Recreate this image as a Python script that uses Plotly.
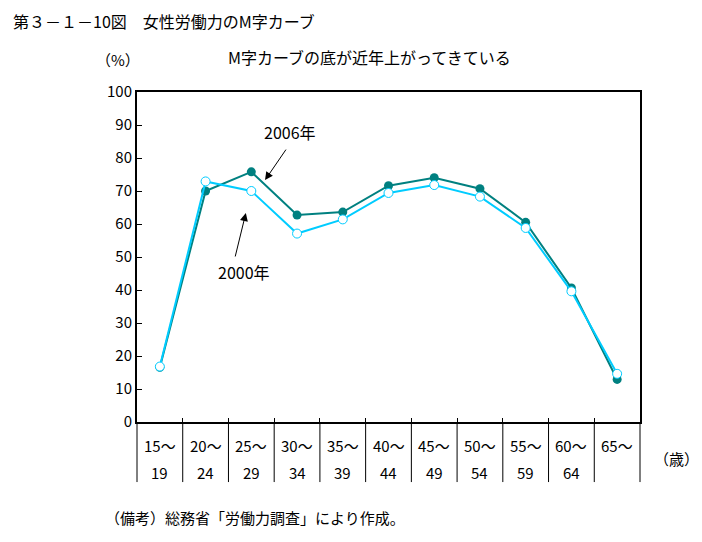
import plotly.graph_objects as go

top_labels = ["15～", "20～", "25～", "30～", "35～", "40～", "45～", "50～", "55～", "60～", "65～"]
bottom_labels = ["19", "24", "29", "34", "39", "44", "49", "54", "59", "64", ""]
rate_2006 = [16.6, 70.0, 75.8, 62.7, 63.6, 71.6, 74.0, 70.7, 60.5, 40.6, 12.9]
rate_2000 = [16.8, 72.9, 70.0, 57.1, 61.4, 69.4, 71.8, 68.3, 58.8, 39.6, 14.6]

FONT = "Noto Sans CJK JP"
n = len(top_labels)
xs = list(range(n))

fig = go.Figure()
fig.add_trace(go.Scatter(
    x=xs, y=rate_2006, mode="lines+markers", name="2006年",
    line=dict(color="#008080", width=2),
    marker=dict(symbol="circle", size=9, color="#008080"),
))
fig.add_trace(go.Scatter(
    x=xs, y=rate_2000, mode="lines+markers", name="2000年",
    line=dict(color="#00CCFF", width=2),
    marker=dict(symbol="circle", size=9, color="white", line=dict(color="#00CCFF", width=1)),
))

annotations = []
for i in range(n):
    annotations.append(dict(x=xs[i], y=-0.07, xref="x", yref="paper", text=top_labels[i],
                            showarrow=False, font=dict(size=15, family=FONT, color="black"),
                            xanchor="center", yanchor="middle"))
    if bottom_labels[i]:
        annotations.append(dict(x=xs[i], y=-0.152, xref="x", yref="paper", text=bottom_labels[i],
                                showarrow=False, font=dict(size=15, family=FONT, color="black"),
                                xanchor="center", yanchor="middle"))

# arrows
annotations.append(dict(x=2.30, y=73.3, ax=2.78, ay=83.0, xref="x", yref="y", axref="x", ayref="y",
                        text="", showarrow=True, arrowhead=2, arrowsize=1.6, arrowwidth=1, arrowcolor="black"))
annotations.append(dict(x=2.84, y=87.9, xref="x", yref="y", text="2006年", showarrow=False,
                        font=dict(size=16, family=FONT, color="black")))
annotations.append(dict(x=1.88, y=63.3, ax=1.64, ay=49.7, xref="x", yref="y", axref="x", ayref="y",
                        text="", showarrow=True, arrowhead=2, arrowsize=1.6, arrowwidth=1, arrowcolor="black"))
annotations.append(dict(x=1.84, y=45.5, xref="x", yref="y", text="2000年", showarrow=False,
                        font=dict(size=16, family=FONT, color="black")))

# titles & notes
annotations += [
    dict(x=-0.25, y=1.216, xref="paper", yref="paper", text="第３－１－10図　女性労働力のM字カーブ",
         showarrow=False, xanchor="left", yanchor="middle", font=dict(size=16, family=FONT, color="black")),
    dict(x=0.463, y=1.106, xref="paper", yref="paper", text="M字カーブの底が近年上がってきている",
         showarrow=False, xanchor="center", yanchor="middle", font=dict(size=16, family=FONT, color="black")),
    dict(x=-0.038, y=1.097, xref="paper", yref="paper", text="（%）",
         showarrow=False, xanchor="center", yanchor="middle", font=dict(size=15, family=FONT, color="black")),
    dict(x=1.0716, y=-0.112, xref="paper", yref="paper", text="（歳）",
         showarrow=False, xanchor="center", yanchor="middle", font=dict(size=15, family=FONT, color="black")),
    dict(x=-0.068, y=-0.288, xref="paper", yref="paper", text="（備考）総務省「労働力調査」により作成。",
         showarrow=False, xanchor="left", yanchor="middle", font=dict(size=15, family=FONT, color="black")),
]

shapes = []
for i in range(n + 1):
    shapes.append(dict(type="line", xref="paper", yref="paper", x0=i / n, x1=i / n, y0=0, y1=-0.182,
                       line=dict(color="black", width=1)))

fig.update_layout(
    width=702, height=542,
    margin=dict(l=129, r=70, t=84, b=128),
    paper_bgcolor="white", plot_bgcolor="white",
    showlegend=False,
    annotations=annotations,
    shapes=shapes,
    font=dict(family=FONT, size=15, color="black"),
    xaxis=dict(range=[-0.5, n - 0.5], showticklabels=False, showgrid=False, zeroline=False,
               showline=True, mirror=True, linecolor="black", linewidth=2,
               tickmode="array", tickvals=[i - 0.5 for i in range(1, n)], ticks="inside",
               ticklen=4, tickcolor="black", tickwidth=1),
    yaxis=dict(range=[0, 100], dtick=10, showgrid=False, zeroline=False,
               showline=True, mirror=True, linecolor="black", linewidth=2,
               ticks="inside", ticklen=5, tickcolor="black", tickwidth=1,
               tickfont=dict(size=15, family=FONT, color="black")),
)

fig.write_html("out.html")
